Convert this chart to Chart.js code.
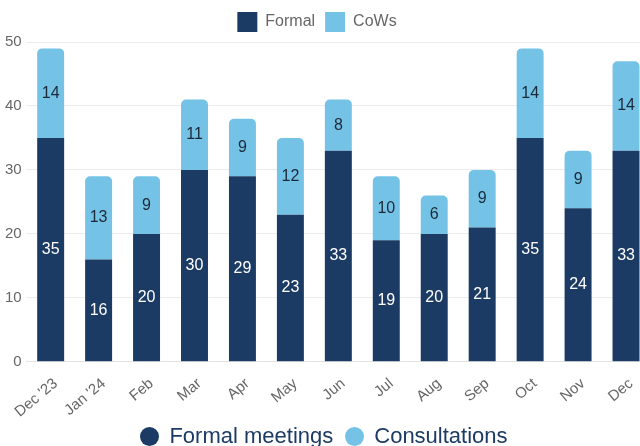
<!DOCTYPE html>
<html>
<head>
<meta charset="utf-8">
<script src="https://cdn.jsdelivr.net/npm/chart.js@4"></script>
<style>
    html, body { margin: 0; padding: 0; background: #fff; overflow: hidden; }
    body { width: 640px; height: 446px; position: relative; font-family: "Liberation Sans", Arial, sans-serif; }
    .chart-box { position: absolute; left: 0; top: 0; width: 650px; height: 426px; }
    .meeting-legend {
        position: absolute; left: 0; top: 423px; width: 648px;
        display: flex; justify-content: center; align-items: center;
        font-size: 22px; line-height: 26px; color: #1c3b64;
    }
    .meeting-legend span.dot { display: inline-block; width: 19px; height: 19px; border-radius: 50%; margin-right: 10px; }
    .meeting-legend span.item { display: inline-flex; align-items: center; margin: 0 6px; }
</style>
</head>
<body>
<div class="chart-box"><canvas id="meetingsChart"></canvas></div>
<div class="meeting-legend">
    <span class="item"><span class="dot" style="background:#1c3b64"></span>Formal meetings</span>
    <span class="item"><span class="dot" style="background:#74c3e6"></span>Consultations</span>
</div>
<script>
// months shown on the x axis
const months = ["Dec '23", "Jan '24", 'Feb', 'Mar', 'Apr', 'May', 'Jun', 'Jul', 'Aug', 'Sep', 'Oct', 'Nov', 'Dec'];
// stacked series
const formal = [35, 16, 20, 30, 29, 23, 33, 19, 20, 21, 35, 24, 33];
const cows = [14, 13, 9, 11, 9, 12, 8, 10, 6, 9, 14, 9, 14];
const yTicks = [0, 10, 20, 30, 40, 50];

const NAVY = '#1c3b64';
const SKY = '#74c3e6';
const FONT = '"Liberation Sans", Arial, sans-serif';

// writes each segment's value in the middle of it
const segmentLabels = {
    id: 'segmentLabels',
    afterDatasetsDraw(chart) {
        const ctx = chart.ctx;
        ctx.save();
        ctx.font = '16px ' + FONT;
        ctx.textAlign = 'center';
        ctx.textBaseline = 'middle';
        chart.data.datasets.forEach((ds, di) => {
            const meta = chart.getDatasetMeta(di);
            meta.data.forEach((bar, i) => {
                ctx.fillStyle = di === 0 ? '#ffffff' : '#1b2838';
                ctx.fillText(ds.data[i], bar.x, (bar.y + bar.base) / 2);
            });
        });
        ctx.restore();
    }
};

// the top legend sits a bit left of the canvas centre
const legendShift = {
    id: 'legendShift',
    afterLayout(chart) {
        if (chart.legend) {
            chart.legend.left -= 8;
            chart.legend.right -= 8;
        }
    }
};

new Chart(document.getElementById('meetingsChart'), {
    type: 'bar',
    data: {
        labels: months,
        datasets: [
            {
                label: 'Formal',
                data: formal,
                backgroundColor: NAVY,
                categoryPercentage: 0.75,
                barPercentage: 0.75
            },
            {
                label: 'CoWs',
                data: cows,
                backgroundColor: SKY,
                borderRadius: 5,
                borderSkipped: 'start',
                categoryPercentage: 0.75,
                barPercentage: 0.75
            }
        ]
    },
    options: {
        responsive: true,
        maintainAspectRatio: false,
        animation: false,
        layout: { padding: { left: 0, right: 0, top: 2, bottom: 0 } },
        plugins: {
            legend: {
                position: 'top',
                labels: {
                    boxWidth: 20,
                    boxHeight: 20,
                    padding: 10,
                    color: '#666',
                    font: { family: FONT, size: 16 }
                }
            },
            tooltip: { enabled: false }
        },
        scales: {
            x: {
                stacked: true,
                grid: { display: false },
                border: { color: '#e2e2e2' },
                ticks: {
                    minRotation: 40,
                    maxRotation: 40,
                    padding: 5,
                    labelOffset: 5,
                    color: '#666',
                    font: { family: FONT, size: 15 }
                }
            },
            y: {
                stacked: true,
                min: yTicks[0],
                max: yTicks[yTicks.length - 1],
                border: { display: false },
                grid: { color: '#ececec', drawTicks: false },
                ticks: {
                    stepSize: 10,
                    padding: 5,
                    color: '#666',
                    font: { family: FONT, size: 15 }
                }
            }
        }
    },
    plugins: [segmentLabels, legendShift]
});
</script>
</body>
</html>
